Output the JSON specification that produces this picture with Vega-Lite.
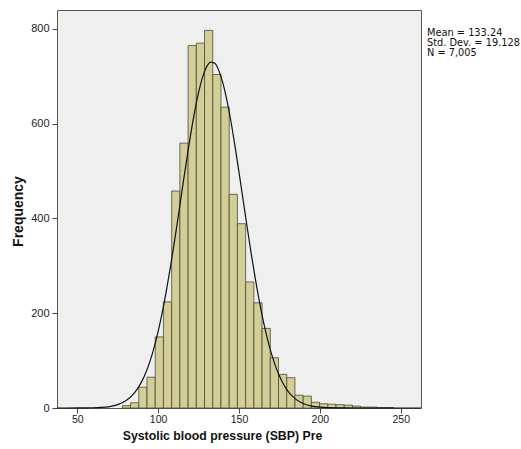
{
  "$schema": "https://vega.github.io/schema/vega-lite/v6.json",
  "width": 364,
  "height": 398,
  "autosize": {"type": "none"},
  "padding": {"left": 57, "top": 10, "right": 100, "bottom": 41},
  "background": "white",
  "config": {
    "view": {"fill": "#efefef", "stroke": "#555555", "strokeWidth": 1},
    "font": "Liberation Sans"
  },
  "title": {
    "text": ["Mean = 133.24", "Std. Dev. = 19.128", "N = 7,005"],
    "orient": "top",
    "anchor": "start",
    "frame": "group",
    "align": "left",
    "baseline": "top",
    "dx": 370,
    "dy": 48,
    "offset": 0,
    "font": "DejaVu Sans",
    "fontSize": 9.8,
    "fontWeight": "normal",
    "color": "#111111",
    "lineHeight": 10
  },
  "layer": [
    {
      "data": {"values": [
        {"bin_start": 77.90, "bin_end": 82.98, "count": 5},
        {"bin_start": 82.98, "bin_end": 88.06, "count": 11},
        {"bin_start": 88.06, "bin_end": 93.14, "count": 44},
        {"bin_start": 93.14, "bin_end": 98.22, "count": 65},
        {"bin_start": 98.22, "bin_end": 103.30, "count": 150},
        {"bin_start": 103.30, "bin_end": 108.38, "count": 224},
        {"bin_start": 108.38, "bin_end": 113.46, "count": 458},
        {"bin_start": 113.46, "bin_end": 118.54, "count": 559},
        {"bin_start": 118.54, "bin_end": 123.62, "count": 765},
        {"bin_start": 123.62, "bin_end": 128.70, "count": 770},
        {"bin_start": 128.70, "bin_end": 133.78, "count": 797},
        {"bin_start": 133.78, "bin_end": 138.86, "count": 704},
        {"bin_start": 138.86, "bin_end": 143.94, "count": 635},
        {"bin_start": 143.94, "bin_end": 149.02, "count": 451},
        {"bin_start": 149.02, "bin_end": 154.10, "count": 389},
        {"bin_start": 154.10, "bin_end": 159.18, "count": 266},
        {"bin_start": 159.18, "bin_end": 164.26, "count": 222},
        {"bin_start": 164.26, "bin_end": 169.34, "count": 168},
        {"bin_start": 169.34, "bin_end": 174.42, "count": 106},
        {"bin_start": 174.42, "bin_end": 179.50, "count": 71},
        {"bin_start": 179.50, "bin_end": 184.58, "count": 64},
        {"bin_start": 184.58, "bin_end": 189.66, "count": 27},
        {"bin_start": 189.66, "bin_end": 194.74, "count": 25},
        {"bin_start": 194.74, "bin_end": 199.82, "count": 12},
        {"bin_start": 199.82, "bin_end": 204.90, "count": 9},
        {"bin_start": 204.90, "bin_end": 209.98, "count": 8},
        {"bin_start": 209.98, "bin_end": 215.06, "count": 7},
        {"bin_start": 215.06, "bin_end": 220.14, "count": 6},
        {"bin_start": 220.14, "bin_end": 225.22, "count": 4},
        {"bin_start": 225.22, "bin_end": 230.30, "count": 2},
        {"bin_start": 230.30, "bin_end": 235.38, "count": 2},
        {"bin_start": 235.38, "bin_end": 240.46, "count": 1},
        {"bin_start": 240.46, "bin_end": 245.54, "count": 1}
      ]},
      "mark": {"type": "rect", "fill": "#d3ce97", "stroke": "#4d4a36", "strokeWidth": 0.8},
      "encoding": {
        "x": {
          "field": "bin_start",
          "type": "quantitative",
          "scale": {"domain": [37.5, 262.5], "nice": false, "zero": false},
          "axis": {
            "values": [50, 100, 150, 200, 250],
            "grid": false,
            "domain": false,
            "tickSize": 5,
            "tickColor": "#444444",
            "labelFontSize": 10.5,
            "labelColor": "#222222",
            "labelPadding": 1,
            "title": "Systolic blood pressure (SBP) Pre",
            "titleFontSize": 12.3,
            "titleFontWeight": "bold",
            "titleColor": "#111111",
            "titleX": 165,
            "titleY": 31,
            "titleAlign": "center",
            "titleBaseline": "alphabetic"
          }
        },
        "x2": {"field": "bin_end"},
        "y": {
          "field": "count",
          "type": "quantitative",
          "scale": {"domain": [0, 840], "nice": false},
          "axis": {
            "values": [0, 200, 400, 600, 800],
            "grid": false,
            "domain": false,
            "tickSize": 5,
            "tickColor": "#444444",
            "labelFontSize": 11,
            "labelColor": "#222222",
            "labelPadding": 3,
            "title": "Frequency",
            "titleFontSize": 14,
            "titleFontWeight": "bold",
            "titleColor": "#111111",
            "titleX": -35,
            "titleY": 201,
            "titleAngle": -90,
            "titleAlign": "center",
            "titleBaseline": "alphabetic"
          }
        },
        "y2": {"datum": 0}
      }
    },
    {
      "data": {"values": [
        {"x": 37.5, "y": 0},
        {"x": 50, "y": 0.06},
        {"x": 60, "y": 0.48},
        {"x": 65, "y": 1.26},
        {"x": 70, "y": 3.09},
        {"x": 75, "y": 7.09},
        {"x": 80, "y": 15.19},
        {"x": 85, "y": 30.38},
        {"x": 87.5, "y": 41.9},
        {"x": 90, "y": 56.75},
        {"x": 92.5, "y": 75.6},
        {"x": 95, "y": 99.02},
        {"x": 97.5, "y": 127.5},
        {"x": 100, "y": 161.4},
        {"x": 102.5, "y": 200.8},
        {"x": 105, "y": 245.6},
        {"x": 107.5, "y": 295.4},
        {"x": 110, "y": 349.2},
        {"x": 112.5, "y": 405.8},
        {"x": 115, "y": 463.6},
        {"x": 117.5, "y": 520.7},
        {"x": 120, "y": 574.9},
        {"x": 122.5, "y": 624.0},
        {"x": 125, "y": 665.8},
        {"x": 127.5, "y": 698.3},
        {"x": 130, "y": 720.1},
        {"x": 132.5, "y": 729.95},
        {"x": 135, "y": 727.4},
        {"x": 137.5, "y": 712.6},
        {"x": 140, "y": 686.3},
        {"x": 142.5, "y": 649.7},
        {"x": 145, "y": 604.7},
        {"x": 147.5, "y": 553.3},
        {"x": 150, "y": 497.6},
        {"x": 152.5, "y": 440.0},
        {"x": 155, "y": 382.5},
        {"x": 157.5, "y": 326.8},
        {"x": 160, "y": 274.6},
        {"x": 162.5, "y": 226.7},
        {"x": 165, "y": 184.1},
        {"x": 167.5, "y": 146.9},
        {"x": 170, "y": 115.2},
        {"x": 172.5, "y": 88.9},
        {"x": 175, "y": 67.4},
        {"x": 177.5, "y": 50.2},
        {"x": 180, "y": 36.8},
        {"x": 182.5, "y": 26.5},
        {"x": 185, "y": 18.78},
        {"x": 190, "y": 8.95},
        {"x": 195, "y": 3.98},
        {"x": 200, "y": 1.65},
        {"x": 205, "y": 0.64},
        {"x": 210, "y": 0.23},
        {"x": 220, "y": 0.03},
        {"x": 262.5, "y": 0}
      ]},
      "mark": {"type": "line", "color": "#111111", "strokeWidth": 1.2, "interpolate": "monotone"},
      "encoding": {
        "x": {"field": "x", "type": "quantitative"},
        "y": {"field": "y", "type": "quantitative"}
      }
    }
  ]
}
